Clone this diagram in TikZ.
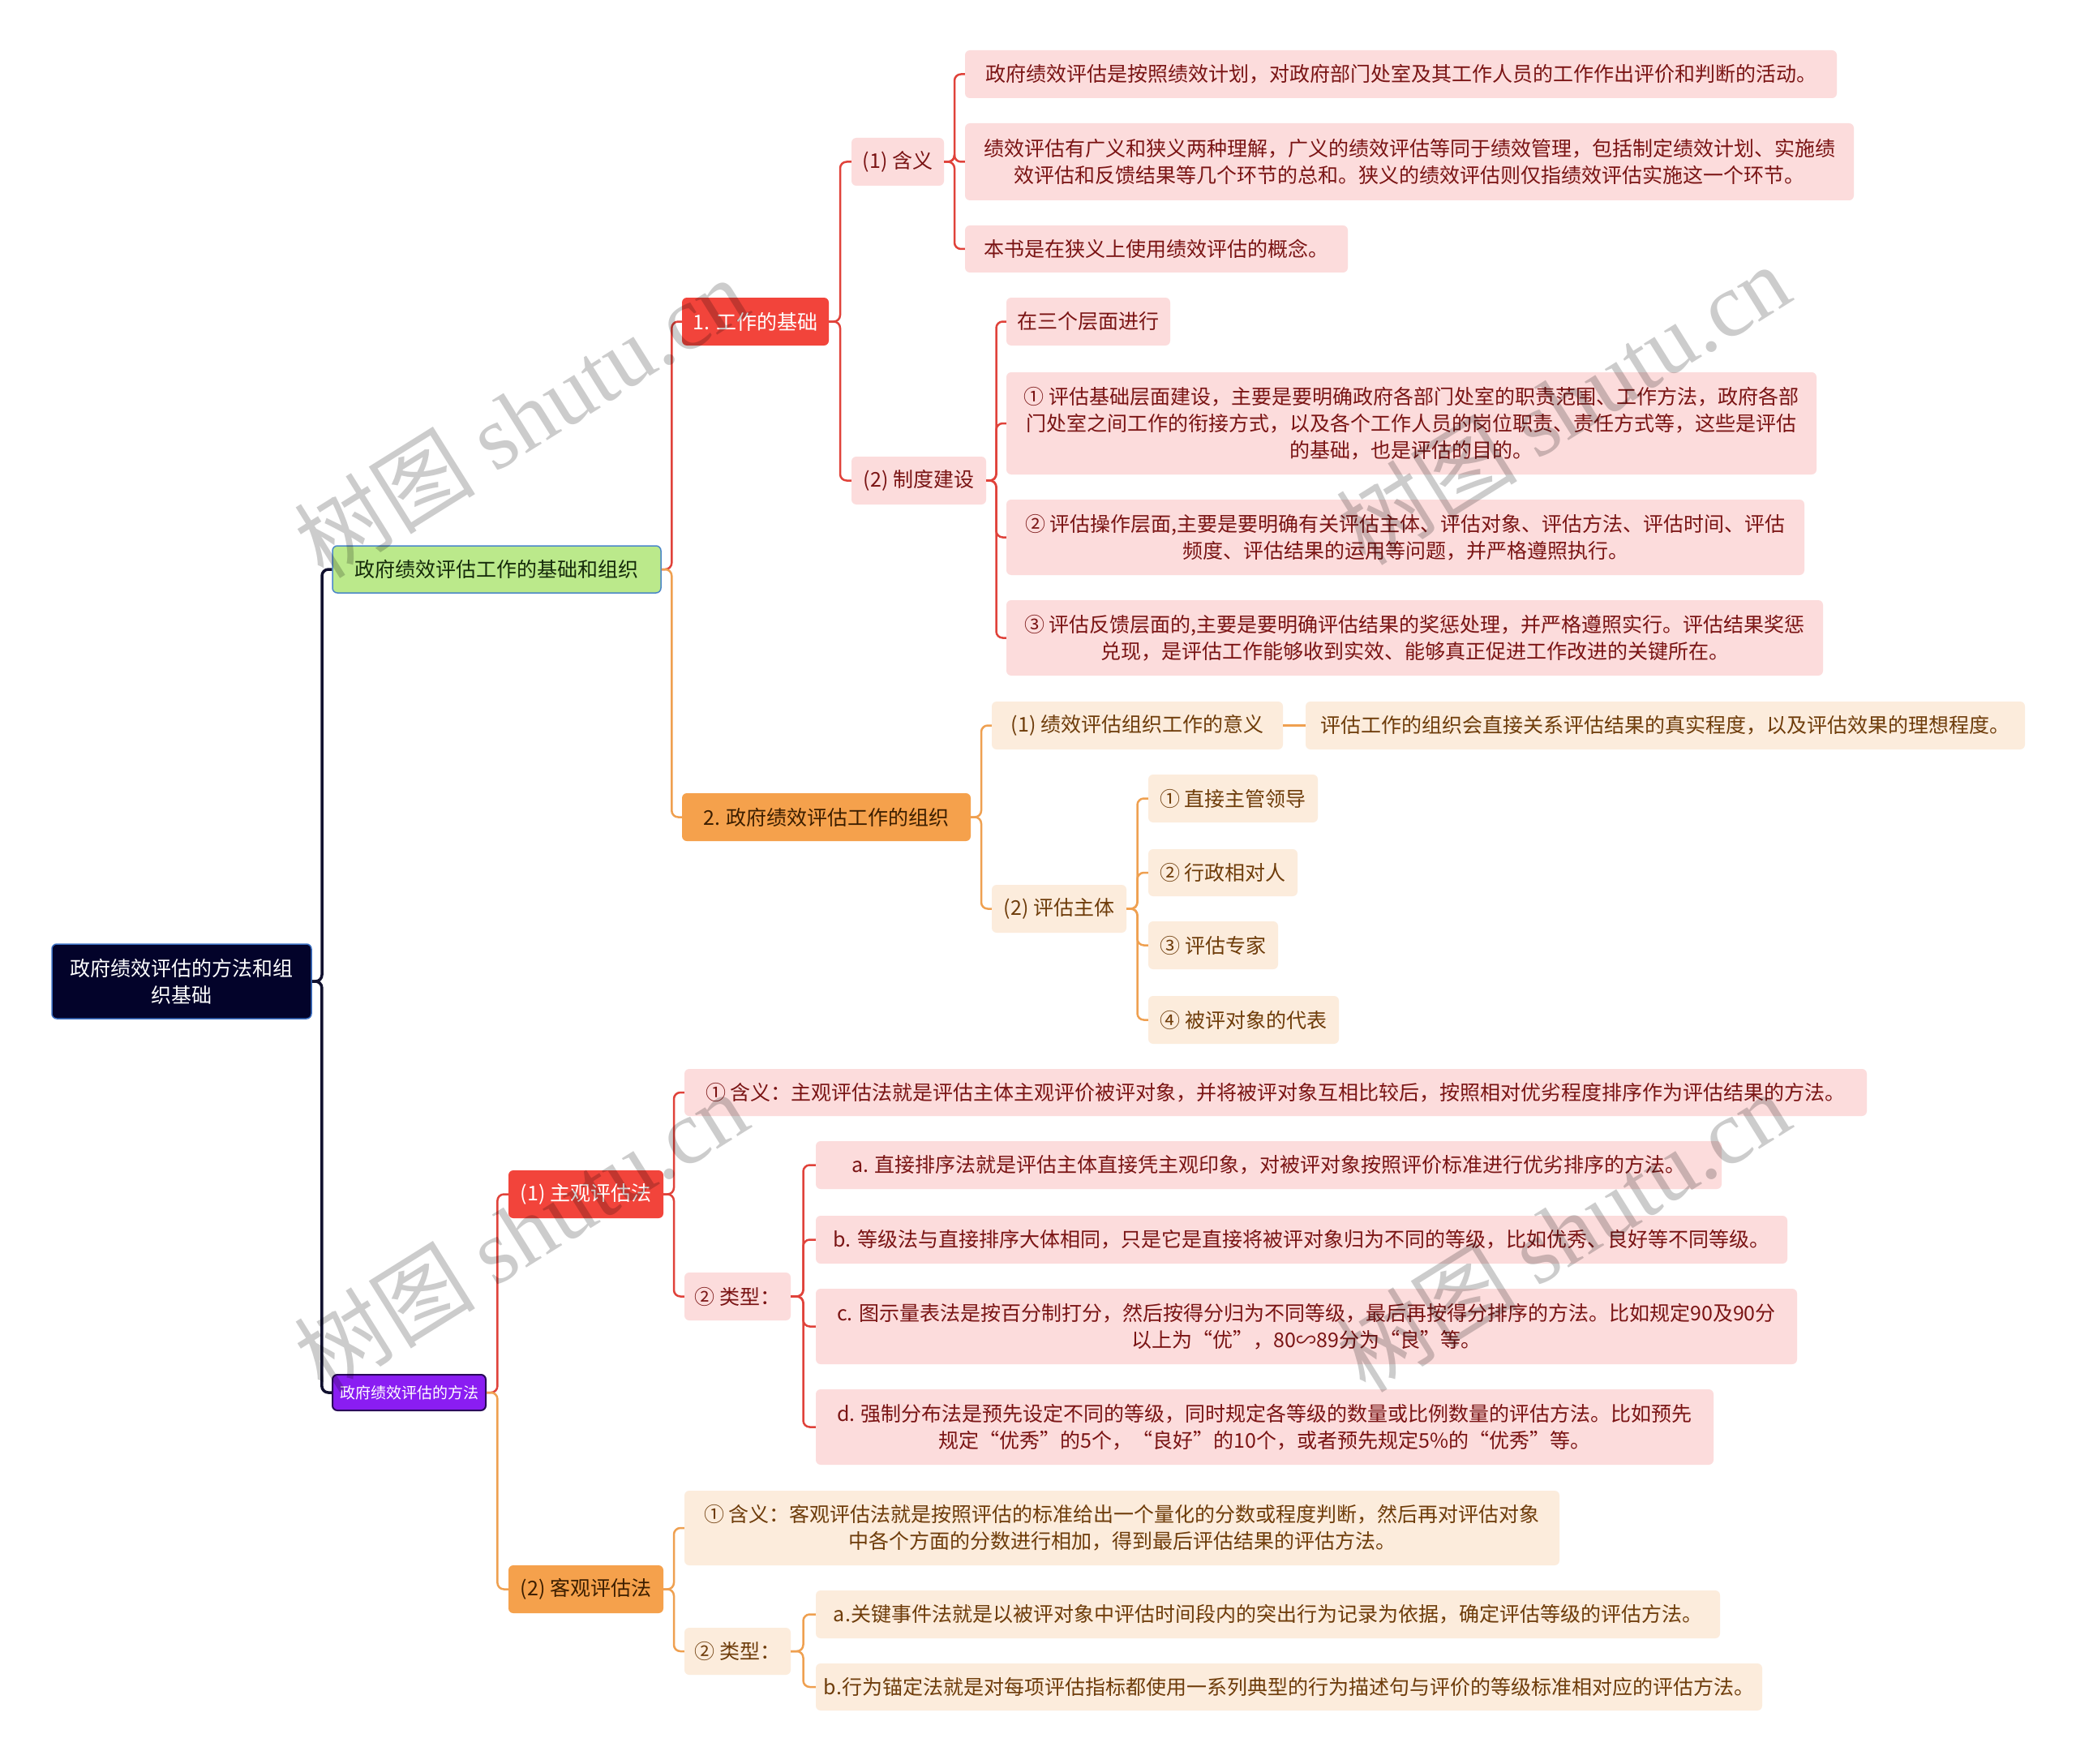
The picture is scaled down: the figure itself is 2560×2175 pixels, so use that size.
\documentclass[tikz,border=0pt]{standalone}
\usepackage{fontspec}
\setmainfont{Noto Sans CJK SC}
\newfontfamily\wmfont{Liberation Serif}
\usetikzlibrary{calc}
\definecolor{rootfill}{HTML}{03032A}
\definecolor{rootborder}{HTML}{3B6FC2}
\definecolor{greenfill}{HTML}{BBE98B}
\definecolor{greenborder}{HTML}{4A86C8}
\definecolor{greentext}{HTML}{142A0A}
\definecolor{purplefill}{HTML}{8A1DF2}
\definecolor{purpleborder}{HTML}{2A0A5A}
\definecolor{redfill}{HTML}{F2443B}
\definecolor{orangefill}{HTML}{F5A14C}
\definecolor{orangetext}{HTML}{3C1E00}
\definecolor{pinkfill}{HTML}{FCDCDC}
\definecolor{peachfill}{HTML}{FCECDC}
\definecolor{pinktext}{HTML}{7A1414}
\definecolor{peachtext}{HTML}{6E3C0A}
\definecolor{redline}{HTML}{E0423A}
\definecolor{orangeline}{HTML}{EFA050}
\definecolor{navyline}{HTML}{10102E}
\tikzset{
  box/.style={rounded corners=6pt, inner sep=0pt, align=center, font=\fontsize{25}{33}\selectfont},
  pinkbox/.style={box, fill=pinkfill, text=pinktext},
  peachbox/.style={box, fill=peachfill, text=peachtext},
  redbox/.style={box, fill=redfill, text=white},
  orangebox/.style={box, fill=orangefill, text=orangetext},
  rootbox/.style={box, fill=rootfill, draw=rootborder, line width=1.5pt, text=white},
  greenbox/.style={box, fill=greenfill, draw=greenborder, line width=1.5pt, text=greentext},
  purplebox/.style={box, fill=purplefill, draw=purpleborder, line width=2pt, text=white, font=\fontsize{19}{24}\selectfont},
  conn/.style={line width=2.5pt, rounded corners=8pt},
  rootconn/.style={line width=3.5pt, rounded corners=8pt, draw=navyline},
  redconn/.style={conn, draw=redline},
  orangeconn/.style={conn, draw=orangeline},
  wmark/.style={rotate=32, text=black, text opacity=0.2, inner sep=0pt, font=\fontsize{112}{112}\selectfont}
}
\newcommand\bx[7]{\node[#1,minimum width={#4-#2},minimum height={#5-#3}] (#6) at ({(#2+#4)/2},{(#3+#5)/2}) {#7};}
\newcommand\link[3]{\draw[#1] let \p1=(#2.east), \p2=(#3.west) in (#2.east) -- ({(\x1+\x2)/2},\y1) |- (#3.west);}
\newcommand\straightlink[3]{\draw[#1,rounded corners=0pt] (#2.east) -- (#3.west);}
\begin{document}
\begin{tikzpicture}[x=1pt,y=-1pt]
\fill[white] (0,0) rectangle (2560,2175);
\useasboundingbox (0,0) rectangle (2560,2175);
% nodes
\bx{rootbox}{64}{1164}{384}{1256}{root}{政府绩效评估的方法和组\\织基础}
\bx{greenbox}{410}{673}{815}{731}{g1}{政府绩效评估工作的基础和组织}
\bx{purplebox}{410}{1695}{599}{1739}{g2}{政府绩效评估的方法}
\bx{redbox}{841}{367}{1022}{426}{n1}{1. 工作的基础}
\bx{orangebox}{841}{978}{1197}{1037}{n2}{2. 政府绩效评估工作的组织}
\bx{pinkbox}{1050}{170}{1164}{229}{n11}{(1) 含义}
\bx{pinkbox}{1050}{563}{1216}{622}{n12}{(2) 制度建设}
\bx{pinkbox}{1190}{62}{2265}{121}{n111}{政府绩效评估是按照绩效计划，对政府部门处室及其工作人员的工作作出评价和判断的活动。}
\bx{pinkbox}{1190}{152}{2286}{247}{n112}{绩效评估有广义和狭义两种理解，广义的绩效评估等同于绩效管理，包括制定绩效计划、实施绩\\效评估和反馈结果等几个环节的总和。狭义的绩效评估则仅指绩效评估实施这一个环节。}
\bx{pinkbox}{1190}{278}{1662}{336}{n113}{本书是在狭义上使用绩效评估的概念。}
\bx{pinkbox}{1241}{367}{1443}{426}{n121}{在三个层面进行}
\bx{pinkbox}{1241}{459}{2240}{585}{n122}{① 评估基础层面建设，主要是要明确政府各部门处室的职责范围、工作方法，政府各部\\门处室之间工作的衔接方式，以及各个工作人员的岗位职责、责任方式等，这些是评估\\的基础，也是评估的目的。}
\bx{pinkbox}{1241}{616}{2225}{709}{n123}{② 评估操作层面,主要是要明确有关评估主体、评估对象、评估方法、评估时间、评估\\频度、评估结果的运用等问题，并严格遵照执行。}
\bx{pinkbox}{1241}{740}{2248}{833}{n124}{③ 评估反馈层面的,主要是要明确评估结果的奖惩处理，并严格遵照实行。评估结果奖惩\\兑现，是评估工作能够收到实效、能够真正促进工作改进的关键所在。}
\bx{peachbox}{1223}{865}{1582}{924}{n21}{(1) 绩效评估组织工作的意义}
\bx{peachbox}{1610}{865}{2497}{924}{n211}{评估工作的组织会直接关系评估结果的真实程度，以及评估效果的理想程度。}
\bx{peachbox}{1223}{1091}{1389}{1150}{n22}{(2) 评估主体}
\bx{peachbox}{1416}{955}{1625}{1014}{n221}{① 直接主管领导}
\bx{peachbox}{1416}{1047}{1600}{1105}{n222}{② 行政相对人}
\bx{peachbox}{1416}{1136}{1576}{1195}{n223}{③ 评估专家}
\bx{peachbox}{1416}{1228}{1651}{1287}{n224}{④ 被评对象的代表}
\bx{redbox}{627}{1443}{818}{1502}{m1}{(1) 主观评估法}
\bx{orangebox}{627}{1930}{818}{1989}{m2}{(2) 客观评估法}
\bx{pinkbox}{844}{1318}{2302}{1376}{m11}{① 含义：主观评估法就是评估主体主观评价被评对象，并将被评对象互相比较后，按照相对优劣程度排序作为评估结果的方法。}
\bx{pinkbox}{844}{1569}{975}{1628}{m12}{② 类型：}
\bx{pinkbox}{1006}{1407}{2123}{1466}{m121}{a. 直接排序法就是评估主体直接凭主观印象，对被评对象按照评价标准进行优劣排序的方法。}
\bx{pinkbox}{1006}{1499}{2204}{1558}{m122}{b. 等级法与直接排序大体相同，只是它是直接将被评对象归为不同的等级，比如优秀、良好等不同等级。}
\bx{pinkbox}{1006}{1589}{2216}{1682}{m123}{c. 图示量表法是按百分制打分，然后按得分归为不同等级，最后再按得分排序的方法。比如规定90及90分\\以上为“优”，80∽89分为“良”等。}
\bx{pinkbox}{1006}{1713}{2113}{1806}{m124}{d. 强制分布法是预先设定不同的等级，同时规定各等级的数量或比例数量的评估方法。比如预先\\规定“优秀”的5个，“良好”的10个，或者预先规定5\%的“优秀”等。}
\bx{peachbox}{844}{1838}{1923}{1930}{m21}{① 含义：客观评估法就是按照评估的标准给出一个量化的分数或程度判断，然后再对评估对象\\中各个方面的分数进行相加，得到最后评估结果的评估方法。}
\bx{peachbox}{844}{2007}{975}{2065}{m22}{② 类型：}
\bx{peachbox}{1006}{1961}{2121}{2020}{m221}{a.关键事件法就是以被评对象中评估时间段内的突出行为记录为依据，确定评估等级的评估方法。}
\bx{peachbox}{1006}{2051}{2173}{2109}{m222}{b.行为锚定法就是对每项评估指标都使用一系列典型的行为描述句与评价的等级标准相对应的评估方法。}
% connectors
\link{rootconn}{root}{g1}
\link{rootconn}{root}{g2}
\link{redconn}{g1}{n1}
\link{orangeconn}{g1}{n2}
\link{redconn}{n1}{n11}
\link{redconn}{n1}{n12}
\link{redconn}{n11}{n111}
\link{redconn}{n11}{n112}
\link{redconn}{n11}{n113}
\link{redconn}{n12}{n121}
\link{redconn}{n12}{n122}
\link{redconn}{n12}{n123}
\link{redconn}{n12}{n124}
\link{orangeconn}{n2}{n21}
\link{orangeconn}{n2}{n22}
\straightlink{orangeconn}{n21}{n211}
\link{orangeconn}{n22}{n221}
\link{orangeconn}{n22}{n222}
\link{orangeconn}{n22}{n223}
\link{orangeconn}{n22}{n224}
\link{redconn}{g2}{m1}
\link{orangeconn}{g2}{m2}
\link{redconn}{m1}{m11}
\link{redconn}{m1}{m12}
\link{redconn}{m12}{m121}
\link{redconn}{m12}{m122}
\link{redconn}{m12}{m123}
\link{redconn}{m12}{m124}
\link{orangeconn}{m2}{m21}
\link{orangeconn}{m2}{m22}
\link{orangeconn}{m22}{m221}
\link{orangeconn}{m22}{m222}
% watermarks
\node[wmark] (w1) at (642,514) {树图 {\wmfont shutu.cn}};
\node[wmark] (w2) at (1927,498) {树图 {\wmfont shutu.cn}};
\node[wmark] (w3) at (642,1518) {树图 {\wmfont shutu.cn}};
\node[wmark] (w4) at (1927,1518) {树图 {\wmfont shutu.cn}};
\end{tikzpicture}
\end{document}
